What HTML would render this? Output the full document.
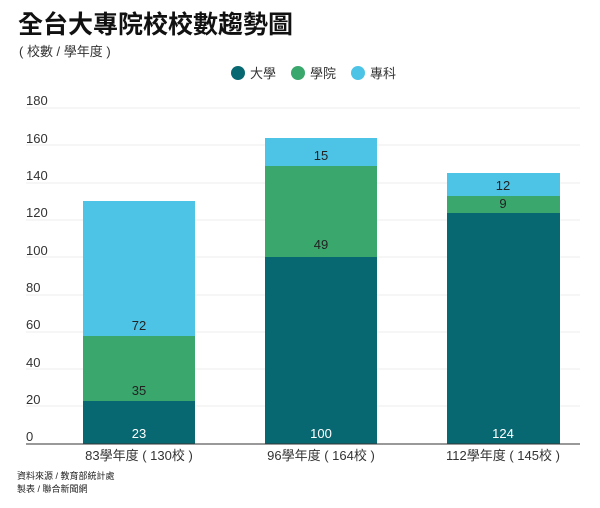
<!DOCTYPE html>
<html><head><meta charset="utf-8"><style>
body{margin:0;background:#fff;}
svg text{font-family:"Liberation Sans","Noto Sans CJK TC",sans-serif;}
</style></head><body>
<svg width="600" height="503" viewBox="0 0 600 503" xmlns="http://www.w3.org/2000/svg">
<rect width="600" height="503" fill="#fff"/>
<text x="18" y="33" font-size="25" font-weight="bold" fill="#111">全台大專院校校數趨勢圖</text>
<text x="19" y="56" font-size="13" fill="#333">( 校數 / 學年度 )</text>
<circle cx="238" cy="73" r="7" fill="#086872"/><text x="250" y="78" font-size="13" fill="#333">大學</text>
<circle cx="298" cy="73" r="7" fill="#3aa76d"/><text x="310" y="78" font-size="13" fill="#333">學院</text>
<circle cx="358" cy="73" r="7" fill="#4dc4e6"/><text x="370" y="78" font-size="13" fill="#333">專科</text>
<g stroke="#eee" stroke-width="1">
<line x1="26" y1="108" x2="580" y2="108"/><line x1="26" y1="145" x2="580" y2="145"/>
<line x1="26" y1="183" x2="580" y2="183"/><line x1="26" y1="220" x2="580" y2="220"/>
<line x1="26" y1="257" x2="580" y2="257"/><line x1="26" y1="295" x2="580" y2="295"/>
<line x1="26" y1="332" x2="580" y2="332"/><line x1="26" y1="369" x2="580" y2="369"/>
<line x1="26" y1="406" x2="580" y2="406"/>
</g>
<g font-size="13" fill="#333">
<text x="26" y="105">180</text><text x="26" y="143">160</text><text x="26" y="180">140</text>
<text x="26" y="217">120</text><text x="26" y="255">100</text><text x="26" y="292">80</text>
<text x="26" y="329">60</text><text x="26" y="367">40</text><text x="26" y="404">20</text>
<text x="26" y="441">0</text>
</g>
<rect x="83" y="201" width="112" height="135" fill="#4dc4e6"/>
<rect x="83" y="336" width="112" height="65" fill="#3aa76d"/>
<rect x="83" y="401" width="112" height="43" fill="#086872"/>
<rect x="265" y="138" width="112" height="28" fill="#4dc4e6"/>
<rect x="265" y="166" width="112" height="91" fill="#3aa76d"/>
<rect x="265" y="257" width="112" height="187" fill="#086872"/>
<rect x="447" y="173" width="113" height="23" fill="#4dc4e6"/>
<rect x="447" y="196" width="113" height="17" fill="#3aa76d"/>
<rect x="447" y="213" width="113" height="231" fill="#086872"/>
<line x1="26" y1="444" x2="580" y2="444" stroke="#333" stroke-width="1"/>
<g font-size="13" text-anchor="middle">
<text x="139" y="330" fill="#222">72</text><text x="139" y="395" fill="#222">35</text><text x="139" y="438" fill="#fff">23</text>
<text x="321" y="160" fill="#222">15</text><text x="321" y="249" fill="#222">49</text><text x="321" y="438" fill="#fff">100</text>
<text x="503" y="190" fill="#222">12</text><text x="503" y="208" fill="#222">9</text><text x="503" y="438" fill="#fff">124</text>
</g>
<g font-size="13" text-anchor="middle" fill="#333">
<text x="139" y="460">83學年度 ( 130校 )</text>
<text x="321" y="460">96學年度 ( 164校 )</text>
<text x="503" y="460">112學年度 ( 145校 )</text>
</g>
<text x="17" y="479" font-size="9" fill="#222">資料來源 / 教育部統計處</text>
<text x="17" y="492" font-size="9" fill="#222">製表 / 聯合新聞網</text>
</svg>
</body></html>
